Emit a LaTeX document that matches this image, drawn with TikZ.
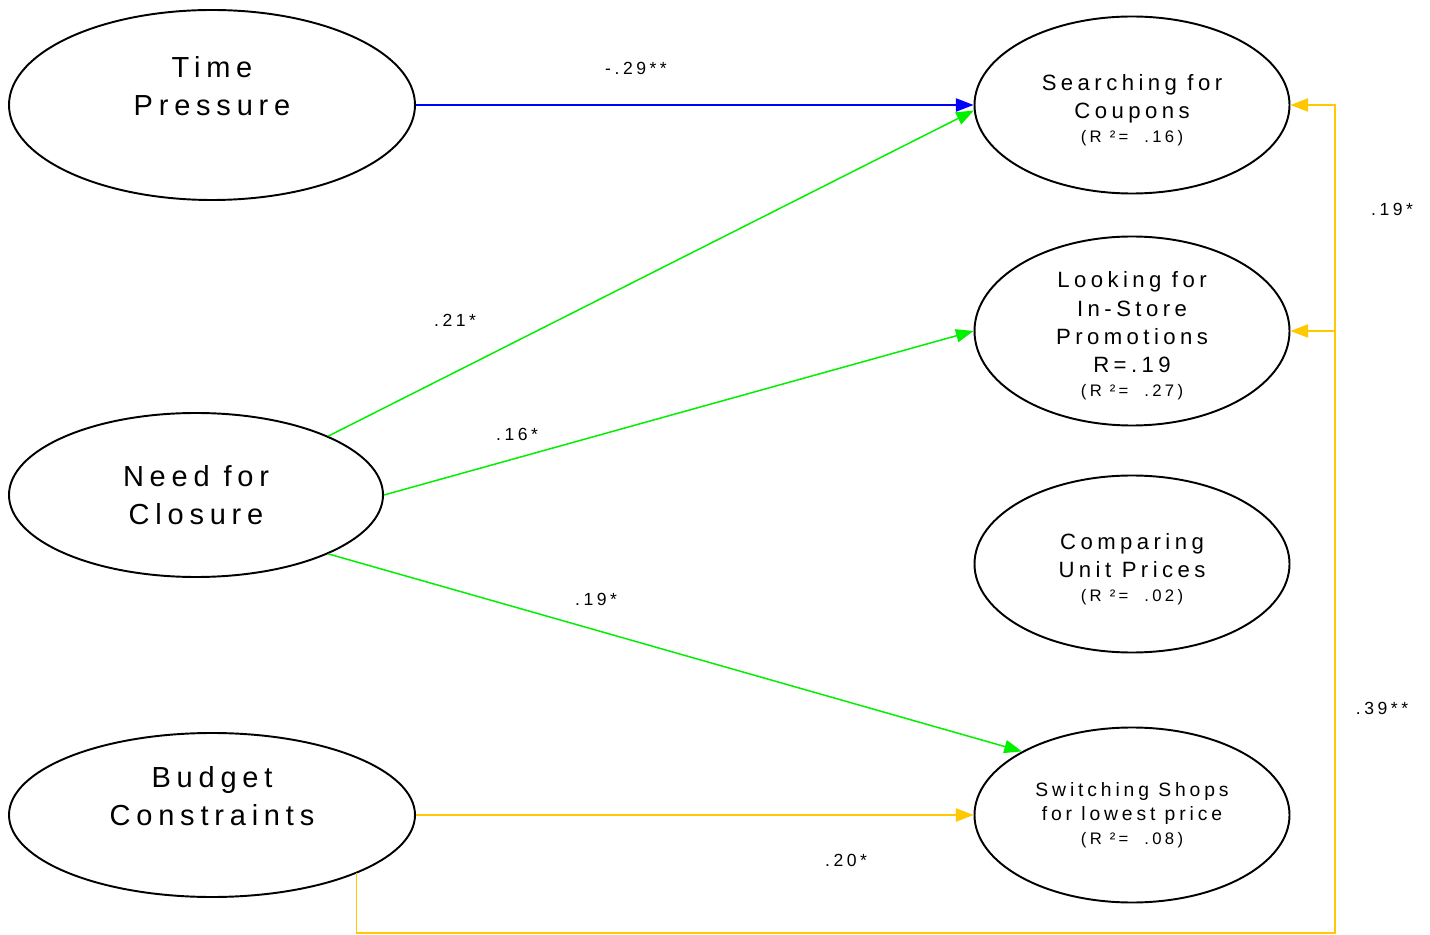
\documentclass[tikz,border=0pt]{standalone}
\usepackage{fontspec}
\setmainfont{Liberation Sans}[LetterSpace=20]
\usetikzlibrary{shapes.geometric,arrows.meta}

\definecolor{pathblue}{RGB}{0,0,255}
\definecolor{pathgreen}{RGB}{0,240,0}
\definecolor{pathyellow}{RGB}{255,200,0}

\tikzset{
  latent/.style={draw, ellipse, line width=1.1pt, inner sep=0pt, align=center},
  bigtext/.style={font=\fontsize{16.5}{21.6}\selectfont},
  midtext/.style={font=\fontsize{12.6}{16}\selectfont},
  smalltext/.style={font=\fontsize{11}{13.7}\selectfont},
  effect/.style={-{Triangle[length=10pt,width=7.5pt]}, line width=0.85pt},
  coef/.style={font=\fontsize{10}{12}\selectfont, inner sep=0pt},
}
\newcommand{\rsq}[1]{{\fontsize{9.5}{11}\selectfont (R ²=\ \ #1)}}
\newcommand{\topgap}{\rule{0pt}{14.9pt}}

\begin{document}
\begin{tikzpicture}[x=0.02cm, y=-0.02cm]
\useasboundingbox (0,0) rectangle (1430,935);

%predictors
\node[latent, bigtext, minimum width=406*0.02cm, minimum height=190*0.02cm] (time) at (212,105) {Time\\Pressure\\\mbox{}};
\node[latent, bigtext, minimum width=374*0.02cm, minimum height=164*0.02cm] (closure) at (196,495) {Need for\\Closure};
\node[latent, bigtext, minimum width=406*0.02cm, minimum height=164*0.02cm] (budget) at (212,815) {Budget\\Constraints\\\mbox{}};

%outcomes
\node[latent, midtext, minimum width=315*0.02cm, minimum height=177*0.02cm] (coupons) at (1132,105) {\topgap Searching for\\Coupons\\[-2pt]\rsq{.16}};
\node[latent, midtext, inner sep=-8pt, minimum width=315*0.02cm, minimum height=189*0.02cm] (promo) at (1132,331) {\topgap Looking for\\In-Store\\Promotions\\R=.19\\[-2pt]\rsq{.27}};
\node[latent, midtext, minimum width=315*0.02cm, minimum height=177*0.02cm] (unit) at (1132,564) {\topgap Comparing\\Unit Prices\\[-2pt]\rsq{.02}};
\node[latent, smalltext, minimum width=315*0.02cm, minimum height=175*0.02cm] (switch) at (1132,815) {Switching Shops\\for lowest price\\\rsq{.08}};

%time pressure
\draw[effect, pathblue] (time.east) -- (coupons.west);
\node[coef] (c1) at (636,68) {-.29**};

%need for closure
\draw[effect, pathgreen] (closure.24) -- (coupons.182);
\draw[effect, pathgreen] (closure.east) -- (promo.west);
\draw[effect, pathgreen] (closure.-24) -- (switch.150);
\node[coef] (c2) at (455,320) {.21*};
\node[coef] (c3) at (517,434) {.16*};
\node[coef] (c4) at (596,599) {.19*};

%budget constraints
\draw[effect, pathyellow] (budget.east) -- (switch.west);
\node[coef] (c5) at (846,860) {.20*};
\coordinate (bus) at (1335,933);
\coordinate (split) at (1335,331);
\draw[effect, pathyellow] (budget.-22) |- (bus) |- (coupons.east);
\draw[effect, pathyellow] (split) -- (promo.east);
\node[coef] (c6) at (1392,209) {.19*};
\node[coef] (c7) at (1382,708) {.39**};

\end{tikzpicture}
\end{document}
